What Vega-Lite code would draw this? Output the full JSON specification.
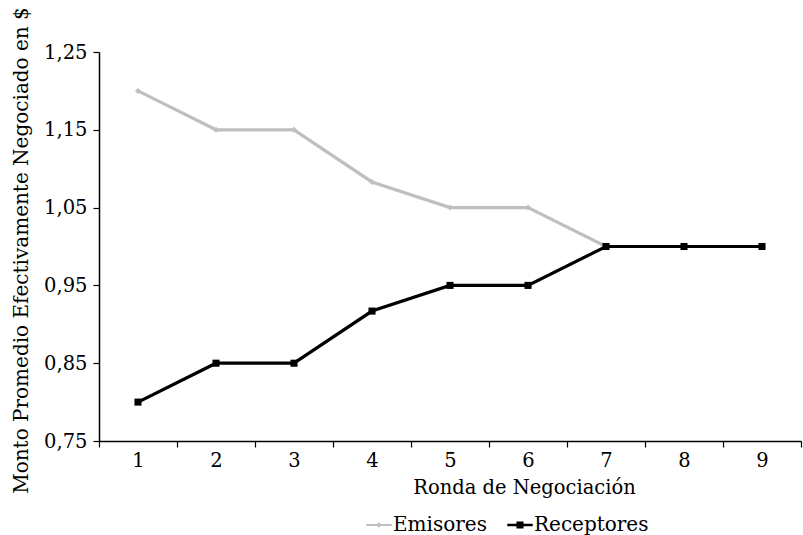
{
  "$schema": "https://vega.github.io/schema/vega-lite/v6.json",
  "width": 702,
  "height": 389,
  "autosize": "none",
  "padding": {"left": 99, "top": 52, "right": 2, "bottom": 94},
  "background": "white",
  "config": {
    "view": {"stroke": null},
    "font": "DejaVu Serif",
    "axis": {"labelFont": "DejaVu Serif", "titleFont": "DejaVu Serif", "labelColor": "black", "titleColor": "black", "domainColor": "black", "tickColor": "black", "titleFontWeight": "normal", "grid": false, "domainWidth": 1.5, "tickWidth": 1.2},
    "legend": {"labelFont": "DejaVu Serif", "labelColor": "black"}
  },
  "data": {"values": [
    {"ronda": "1", "serie": "Emisores", "valor": 1.2},
    {"ronda": "2", "serie": "Emisores", "valor": 1.15},
    {"ronda": "3", "serie": "Emisores", "valor": 1.15},
    {"ronda": "4", "serie": "Emisores", "valor": 1.083},
    {"ronda": "5", "serie": "Emisores", "valor": 1.05},
    {"ronda": "6", "serie": "Emisores", "valor": 1.05},
    {"ronda": "7", "serie": "Emisores", "valor": 1.0},
    {"ronda": "8", "serie": "Emisores", "valor": 1.0},
    {"ronda": "9", "serie": "Emisores", "valor": 1.0},
    {"ronda": "1", "serie": "Receptores", "valor": 0.8},
    {"ronda": "2", "serie": "Receptores", "valor": 0.85},
    {"ronda": "3", "serie": "Receptores", "valor": 0.85},
    {"ronda": "4", "serie": "Receptores", "valor": 0.917},
    {"ronda": "5", "serie": "Receptores", "valor": 0.95},
    {"ronda": "6", "serie": "Receptores", "valor": 0.95},
    {"ronda": "7", "serie": "Receptores", "valor": 1.0},
    {"ronda": "8", "serie": "Receptores", "valor": 1.0},
    {"ronda": "9", "serie": "Receptores", "valor": 1.0}
  ]},
  "encoding": {
    "x": {
      "field": "ronda", "type": "ordinal", "bandPosition": 0.5,
      "scale": {"type": "band", "paddingInner": 0, "paddingOuter": 0},
      "axis": {"title": "Ronda de Negociación", "labelAngle": 0, "labelFontSize": 19.5, "titleFontSize": 19.5, "tickBand": "extent", "tickSize": 6, "labelPadding": 4, "titleX": 425, "titleY": 37, "titleAnchor": null}
    },
    "y": {
      "field": "valor", "type": "quantitative",
      "scale": {"domain": [0.75, 1.25], "nice": false, "zero": false},
      "axis": {"title": "Monto Promedio Efectivamente  Negociado en $", "values": [0.75, 0.85, 0.95, 1.05, 1.15, 1.25], "labelExpr": "replace(format(datum.value, '.2f'), '.', ',')", "labelFontSize": 19.5, "titleFontSize": 20, "titleY": 198, "tickSize": 6, "labelPadding": 6, "titlePadding": 12}
    },
    "color": {
      "field": "serie", "type": "nominal",
      "scale": {"domain": ["Emisores", "Receptores"], "range": ["#bfbfbf", "#000000"]},
      "legend": {
        "title": null, "orient": "none", "direction": "horizontal", "legendX": 267, "legendY": 460,
        "labelFontSize": 20, "symbolSize": 650, "columnPadding": 20, "labelOffset": 1,
        "symbolType": "M-1,-0.1H1V0.1H-1Z M-0.28,-0.28H0.28V0.28H-0.28Z",
        "symbolStrokeWidth": 0,
        "encode": {"symbols": {"update": {
          "shape": {"signal": "datum.value === 'Emisores' ? 'M-1,-0.08H1V0.08H-1Z M0,-0.22L0.22,0L0,0.22L-0.22,0Z' : 'M-1,-0.1H1V0.1H-1Z M-0.28,-0.28H0.28V0.28H-0.28Z'"},
          "fill": {"signal": "datum.value === 'Emisores' ? '#bfbfbf' : '#000000'"},
          "strokeWidth": {"value": 0},
          "fillOpacity": {"value": 1},
          "opacity": {"value": 1}
        }}}
      }
    }
  },
  "layer": [
    {"mark": {"type": "line", "strokeWidth": 3.2}},
    {"transform": [{"filter": "datum.serie === 'Emisores'"}],
     "mark": {"type": "point", "filled": true, "opacity": 1, "shape": "diamond", "size": 36}},
    {"transform": [{"filter": "datum.serie === 'Receptores'"}],
     "mark": {"type": "point", "filled": true, "opacity": 1, "shape": "square", "size": 50}}
  ]
}
